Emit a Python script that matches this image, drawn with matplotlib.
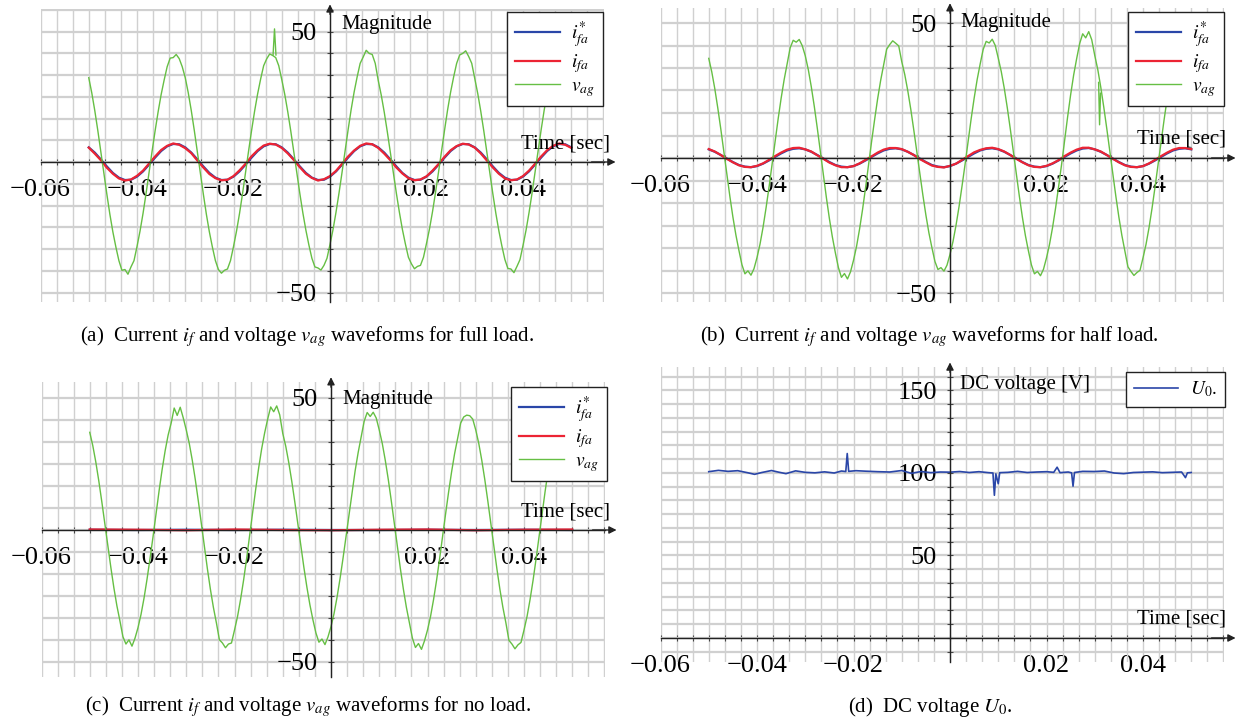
import matplotlib
matplotlib.use("Agg")
import matplotlib.pyplot as plt
import numpy as np
from matplotlib.ticker import MultipleLocator

plt.rcParams['font.family'] = ['Liberation Serif', 'DejaVu Serif']
plt.rcParams['mathtext.fontset'] = 'stix'

# ---- data ----------------------------------------------------------------
# sample times [s]
t_volt = np.linspace(-0.05, 0.05, 161)
t_cur = np.linspace(-0.05, 0.05, 81)
t_flat = np.linspace(-0.05, 0.05, 11)

# (a) full load
va_full = [32.3, 26.5, 19.7, 12.1, 3.9, -4.3, -12.3, -20.0, -26.8, -32.6, -37.8, -41.5, -41.2, -43.0, -40.2, -37.8,
           -32.4, -26.5, -19.7, -12.1, -3.9, 4.1, 11.9, 19.2, 25.8, 31.4, 36.5, 39.8, 40.0, 41.2, 39.6, 36.5,
           32.3, 26.5, 19.7, 12.1, 3.9, -4.3, -12.3, -20.0, -26.8, -32.6, -37.8, -41.2, -42.6, -41.5, -41.0, -37.8,
           -32.4, -26.5, -19.7, -12.1, -3.9, 4.2, 12.1, 19.5, 26.1, 31.8, 36.9, 39.5, 41.4, 40.8, 40.0, 36.9,
           31.6, 25.9, 19.2, 11.8, 3.9, -4.2, -12.1, -19.5, -26.1, -31.8, -36.9, -40.2, -40.6, -41.4, -39.6, -36.9,
           -31.6, -25.9, -19.2, -11.8, -3.9, 4.3, 12.3, 20.0, 26.8, 32.6, 37.8, 40.2, 42.8, 41.6, 41.2, 37.8,
           31.2, 25.6, 19.0, 11.6, 3.8, -4.1, -11.9, -19.2, -25.8, -31.4, -36.5, -39.0, -40.9, -40.0, -39.6, -36.5,
           -31.2, -25.6, -19.0, -11.6, -3.8, 4.3, 12.3, 20.0, 26.8, 32.6, 37.8, 41.0, 41.6, 42.6, 40.4, 37.8,
           32.0, 26.2, 19.4, 11.9, 3.9, -4.2, -12.2, -19.7, -26.4, -32.2, -37.4, -40.8, -41.0, -42.4, -40.0, -37.4,
           -32.0, -26.2, -19.4, -11.9, -3.9, 4.2, 12.2, 19.7, 26.4, 32.2, 37.4, 40.3, 41.5, 41.5, 40.3, 37.4,
           32.0]
va_full_spike_t = [-0.0118, -0.0115, -0.0112]
va_full_spike_v = [41.0, 51.0, 41.0]
iref_full = [5.6, 3.6, 1.0, -1.7, -4.2, -6.0, -6.9, -6.8, -5.6, -3.6, -1.0, 1.7, 4.2, 6.0, 6.9, 6.8,
             5.6, 3.6, 1.0, -1.7, -4.2, -6.0, -6.9, -6.8, -5.6, -3.6, -1.0, 1.7, 4.2, 6.0, 6.9, 6.8,
             5.6, 3.6, 1.0, -1.7, -4.2, -6.0, -6.9, -6.8, -5.6, -3.6, -1.0, 1.7, 4.2, 6.0, 6.9, 6.8,
             5.6, 3.6, 1.0, -1.7, -4.2, -6.0, -6.9, -6.8, -5.6, -3.6, -1.0, 1.7, 4.2, 6.0, 6.9, 6.8,
             5.6, 3.6, 1.0, -1.7, -4.2, -6.0, -6.9, -6.8, -5.6, -3.6, -1.0, 1.7, 4.2, 6.0, 6.9, 6.8,
             5.6]
i_full = [5.5, 3.2, 0.7, -2.2, -4.5, -6.3, -7.1, -6.7, -5.3, -3.3, -0.6, 2.1, 4.6, 6.2, 7.1, 6.6,
          5.3, 3.4, 0.6, -2.1, -4.6, -6.2, -7.0, -6.8, -5.4, -3.2, -0.7, 2.2, 4.5, 6.3, 7.0, 6.7,
          5.4, 3.3, 0.8, -2.0, -4.5, -6.1, -7.1, -6.6, -5.4, -3.4, -0.7, 2.1, 4.4, 6.2, 7.1, 6.8,
          5.4, 3.2, 0.7, -2.1, -4.4, -6.2, -7.0, -6.7, -5.5, -3.3, -0.8, 2.0, 4.5, 6.1, 7.0, 6.7,
          5.5, 3.3, 0.6, -2.1, -4.5, -6.3, -7.0, -6.7, -5.4, -3.3, -0.7, 2.1, 4.5, 6.2, 7.1, 6.6,
          5.4]

# (b) half load
va_half = [36.9, 31.9, 25.7, 18.5, 10.7, 2.4, -6.0, -14.2, -21.8, -28.5, -34.2, -39.5, -42.9, -41.8, -43.4, -41.0,
           -36.9, -31.9, -25.7, -18.5, -10.7, -2.4, 6.1, 14.4, 22.1, 29.0, 34.8, 40.8, 43.6, 42.9, 43.9, 41.6,
           37.9, 32.8, 26.4, 19.1, 11.0, 2.4, -6.2, -14.6, -22.4, -29.3, -35.2, -40.6, -44.2, -42.8, -44.8, -42.2,
           -37.9, -32.8, -26.4, -19.1, -11.0, -2.4, 6.1, 14.2, 21.9, 28.7, 34.4, 40.3, 42.0, 43.4, 42.5, 41.5,
           35.7, 30.9, 24.9, 18.0, 10.3, 2.3, -5.9, -13.7, -21.1, -27.7, -33.2, -38.3, -41.3, -40.6, -41.9, -39.7,
           -35.7, -30.9, -24.9, -18.0, -10.3, -2.3, 6.1, 14.4, 22.1, 29.0, 34.8, 40.2, 43.2, 42.6, 44.0, 41.7,
           37.0, 32.0, 25.8, 18.6, 10.7, 2.4, -6.1, -14.2, -21.9, -28.7, -34.4, -39.6, -42.9, -42.0, -43.6, -41.2,
           -37.0, -32.0, -25.8, -18.6, -10.7, -2.4, 6.5, 15.2, 23.4, 30.7, 36.8, 42.4, 46.0, 44.5, 46.8, 43.8,
           38.0, 32.8, 26.2, 18.8, 10.8, 2.4, -6.1, -14.2, -21.9, -28.7, -34.4, -40.3, -42.0, -43.5, -42.4, -41.6,
           -37.0, -32.0, -25.8, -18.6, -10.7, -2.4, 6.1, 14.2, 21.9, 28.7, 34.4, 40.0, 42.4, 43.0, 42.8, 41.5,
           37.0]
va_half_spike_t = [0.0308, 0.0310, 0.0312]
va_half_spike_v = [28.0, 12.3, 24.0]
iref_half = [3.2, 2.3, 1.1, -0.2, -1.5, -2.6, -3.2, -3.4, -3.0, -2.1, -0.9, 0.4, 1.7, 2.8, 3.4, 3.6,
             3.2, 2.3, 1.1, -0.2, -1.5, -2.6, -3.2, -3.4, -3.0, -2.1, -0.9, 0.4, 1.7, 2.8, 3.4, 3.6,
             3.2, 2.3, 1.1, -0.2, -1.5, -2.6, -3.2, -3.4, -3.0, -2.1, -0.9, 0.4, 1.7, 2.8, 3.4, 3.6,
             3.2, 2.3, 1.1, -0.2, -1.5, -2.6, -3.2, -3.4, -3.0, -2.1, -0.9, 0.4, 1.7, 2.8, 3.5, 3.7,
             3.2, 2.3, 1.1, -0.2, -1.5, -2.6, -3.2, -3.4, -3.0, -2.1, -0.9, 0.4, 1.7, 2.8, 3.4, 3.6,
             3.2]
i_half = [3.3, 2.4, 1.1, -0.3, -1.6, -2.7, -3.3, -3.4, -2.9, -2.0, -0.7, 0.7, 2.0, 3.1, 3.7, 3.8,
          3.2, 2.4, 1.0, -0.3, -1.7, -2.7, -3.4, -3.4, -3.0, -2.0, -0.7, 0.6, 2.0, 3.1, 3.7, 3.7,
          3.3, 2.3, 1.1, -0.4, -1.6, -2.8, -3.3, -3.5, -2.9, -2.1, -0.7, 0.7, 2.1, 3.0, 3.6, 3.8,
          3.3, 2.4, 1.1, -0.3, -1.6, -2.7, -3.3, -3.4, -2.9, -2.0, -0.8, 0.7, 2.0, 3.1, 3.8, 3.8,
          3.2, 2.4, 1.1, -0.3, -1.6, -2.7, -3.3, -3.4, -3.0, -2.0, -0.7, 0.7, 2.0, 3.1, 3.7, 3.7,
          3.3]

# (c) no load
va_none = [37.0, 32.0, 25.8, 18.6, 10.7, 2.4, -6.1, -14.2, -21.9, -28.7, -34.4, -40.4, -43.2, -41.6, -44.0, -41.0,
           -37.0, -32.0, -25.8, -18.6, -10.7, -2.4, 6.3, 14.9, 22.9, 30.0, 36.0, 40.5, 46.2, 43.4, 46.5, 42.5,
           37.9, 32.8, 26.4, 19.1, 11.0, 2.4, -6.2, -14.6, -22.4, -29.3, -35.2, -41.6, -42.8, -44.6, -43.2, -42.8,
           -37.9, -32.8, -26.4, -19.1, -11.0, -2.4, 6.5, 15.2, 23.4, 30.7, 36.8, 42.0, 46.6, 44.8, 47.0, 43.6,
           36.6, 31.7, 25.5, 18.4, 10.6, 2.3, -6.0, -14.1, -21.6, -28.3, -34.0, -39.0, -42.5, -41.3, -43.4, -40.5,
           -36.6, -31.7, -25.5, -18.4, -10.6, -2.3, 6.2, 14.6, 22.4, 29.3, 35.2, 41.2, 44.5, 43.0, 44.6, 42.4,
           37.9, 32.8, 26.4, 19.1, 11.0, 2.4, -6.2, -14.6, -22.4, -29.3, -35.2, -41.0, -44.5, -43.0, -45.2, -42.0,
           -37.9, -32.8, -26.4, -19.1, -11.0, -2.4, 6.1, 14.4, 22.1, 29.0, 34.8, 40.5, 42.8, 43.5, 43.3, 42.0,
           37.9, 32.8, 26.4, 19.1, 11.0, 2.4, -6.2, -14.6, -22.4, -29.3, -35.2, -41.8, -43.2, -45.0, -43.5, -42.6,
           -37.9, -32.8, -26.4, -19.1, -11.0, -2.4, 6.2, 14.6, 22.4, 29.3, 35.2, 40.9, 43.3, 44.0, 43.8, 42.5,
           37.9]
iref_none = [0.1, 0.0, 0.1, 0.0, 0.1, 0.0, 0.0, 0.1, 0.0, 0.1, 0.0]
i_none = [0.2, 0.1, -0.1, 0.2, 0.0, -0.1, 0.1, 0.2, -0.1, 0.1, 0.2]

# (d) DC voltage
t_dc = [-0.0500, -0.0480, -0.0460, -0.0440, -0.0420, -0.0405, -0.0390, -0.0370, -0.0355, -0.0340,
        -0.0320, -0.0300, -0.0280, -0.0260, -0.0240, -0.0225, -0.0216, -0.0213, -0.0210, -0.0195,
        -0.0175, -0.0150, -0.0125, -0.0100, -0.0080, -0.0060, -0.0040, -0.0020, 0.0000, 0.0020,
        0.0040, 0.0060, 0.0080, 0.0089, 0.0092, 0.0095, 0.0100, 0.0103, 0.0120, 0.0140,
        0.0160, 0.0180, 0.0200, 0.0215, 0.0222, 0.0228, 0.0245, 0.0252, 0.0255, 0.0258,
        0.0275, 0.0300, 0.0320, 0.0340, 0.0360, 0.0380, 0.0400, 0.0420, 0.0440, 0.0460,
        0.0480, 0.0488, 0.0492, 0.0500]
u_dc = [100.8, 101.6, 101.0, 101.4, 100.2, 99.2, 100.3, 101.5, 100.5, 99.6,
        101.3, 100.4, 100.1, 100.7, 100.0, 101.2, 100.9, 111.8, 101.0, 101.4,
        101.1, 100.8, 100.6, 101.5, 99.8, 100.9, 100.2, 100.6, 100.5, 100.9,
        100.3, 100.8, 100.2, 100.0, 86.5, 99.5, 93.5, 100.2, 100.4, 101.0,
        100.3, 100.6, 100.8, 100.4, 103.5, 100.2, 100.6, 100.1, 92.0, 100.3,
        101.0, 100.9, 101.2, 100.0, 99.6, 100.3, 100.5, 100.7, 100.2, 100.4,
        100.6, 97.2, 100.1, 100.3]

x_ticks = [-0.06, -0.04, -0.02, 0.02, 0.04]
x_ticklabels = ['\u22120.06', '\u22120.04', '\u22120.02', '0.02', '0.04']

BLUE = '#2a46a8'
RED = '#ec2434'
GREEN = '#66bf44'

W, H = 1246, 722
fig = plt.figure(figsize=(W / 100, H / 100), dpi=100)


def add_panel(x_zero, y_zero, px_x, px_y, xlim, ylim):
    left = x_zero + xlim[0] * px_x
    right = x_zero + xlim[1] * px_x
    top = y_zero - ylim[1] * px_y
    bottom = y_zero - ylim[0] * px_y
    ax = fig.add_axes([left / W, 1 - bottom / H, (right - left) / W, (bottom - top) / H])
    ax.set_xlim(xlim)
    ax.set_ylim(ylim)
    for s in ('top', 'right'):
        ax.spines[s].set_visible(False)
    for s in ('left', 'bottom'):
        ax.spines[s].set_position('zero')
        ax.spines[s].set_color('#222222')
        ax.spines[s].set_linewidth(1.0)
    ax.set_xticks(x_ticks)
    ax.set_xticklabels(x_ticklabels)
    ax.xaxis.set_minor_locator(MultipleLocator(0.02 / 6))
    ax.yaxis.set_minor_locator(MultipleLocator(50 / 6))
    ax.grid(which='both', axis='x', color='#d0d0d0', lw=1.0)
    ax.grid(which='both', axis='y', color='#d0d0d0', lw=1.6)
    ax.set_axisbelow(True)
    ax.tick_params(which='both', direction='inout', length=5, width=0.8, color='#444444')
    ax.tick_params(axis='x', which='major', labelsize=19, pad=10)
    ax.tick_params(axis='y', which='major', labelsize=19, pad=7)
    # arrow heads beyond the axis ends
    dx = 12 / px_x
    dy = 5 / px_y
    arrow = dict(arrowstyle='-|>', color='#222222', lw=1.0, mutation_scale=11, shrinkA=0, shrinkB=0)
    ax.annotate('', xy=(xlim[1] + dx, 0), xytext=(xlim[1] - dx, 0), arrowprops=arrow, annotation_clip=False)
    ax.annotate('', xy=(0, ylim[1] + dy), xytext=(0, ylim[1] - dy), arrowprops=arrow, annotation_clip=False)
    return ax


def fig_text(px, py, s, **kw):
    fig.text(px / W, 1 - py / H, s, **kw)


def current_legend(ax, right_px, top_px, handles, labels):
    leg = ax.legend(handles, labels, loc='upper right',
                    bbox_to_anchor=(right_px / W, 1 - top_px / H), bbox_transform=fig.transFigure,
                    fancybox=False, framealpha=1, edgecolor='#222222', fontsize=14,
                    handlelength=2.3, labelspacing=0.1, borderpad=0.4, handletextpad=0.6,
                    borderaxespad=0)
    leg.get_frame().set_linewidth(1.0)
    return leg


wave_labels = ['$i^{*}_{fa}$', '$i_{fa}$', '$v_{ag}$']
CAP = 15

# ---- (a) ---------------------------------------------------------------
ax = add_panel(330, 162, 4825, 2.61, (-0.06, 0.0567), (-53.5, 58.5))
ax.set_yticks([-50, 50])
hb, = ax.plot(t_cur, iref_full, color=BLUE, lw=1.6)
hr, = ax.plot(t_cur, i_full, color=RED, lw=1.6)
hg, = ax.plot(t_volt, va_full, color=GREEN, lw=1.0)
ax.plot(va_full_spike_t, va_full_spike_v, color=GREEN, lw=1.0)
current_legend(ax, 603, 12, [hb, hr, hg], wave_labels)
fig_text(341, 24, 'Magnitude', fontsize=15, va='center', ha='left')
fig_text(610, 144, 'Time [sec]', fontsize=15, va='center', ha='right')
fig_text(307, 337, '(a)  Current $i_f$ and voltage $v_{ag}$ waveforms for full load.',
         fontsize=CAP, ha='center', va='center')

# ---- (b) ---------------------------------------------------------------
ax = add_panel(950, 158, 4825, 2.70, (-0.06, 0.0567), (-53.3, 55.5))
ax.set_yticks([-50, 50])
hb, = ax.plot(t_cur, iref_half, color=BLUE, lw=1.6)
hr, = ax.plot(t_cur, i_half, color=RED, lw=1.6)
hg, = ax.plot(t_volt, va_half, color=GREEN, lw=1.0)
ax.plot(va_half_spike_t, va_half_spike_v, color=GREEN, lw=1.0)
current_legend(ax, 1224, 12, [hb, hr, hg], wave_labels)
fig_text(960, 23, 'Magnitude', fontsize=15, va='center', ha='left')
fig_text(1226, 139, 'Time [sec]', fontsize=15, va='center', ha='right')
fig_text(929, 337, '(b)  Current $i_f$ and voltage $v_{ag}$ waveforms for half load.',
         fontsize=CAP, ha='center', va='center')

# ---- (c) ---------------------------------------------------------------
ax = add_panel(331, 530, 4825, 2.64, (-0.06, 0.0567), (-55.5, 56.0))
ax.set_yticks([-50, 50])
hb, = ax.plot(t_flat, iref_none, color=BLUE, lw=1.6)
hr, = ax.plot(t_flat, i_none, color=RED, lw=1.6)
hg, = ax.plot(t_volt, va_none, color=GREEN, lw=1.0)
current_legend(ax, 607, 387, [hb, hr, hg], wave_labels)
fig_text(342, 399, 'Magnitude', fontsize=15, va='center', ha='left')
fig_text(610, 512, 'Time [sec]', fontsize=15, va='center', ha='right')
fig_text(308, 707, '(c)  Current $i_f$ and voltage $v_{ag}$ waveforms for no load.',
         fontsize=CAP, ha='center', va='center')

# ---- (d) ---------------------------------------------------------------
ax = add_panel(950, 638, 4825, 1.65, (-0.06, 0.0567), (-14.5, 164.0))
ax.set_yticks([50, 100, 150])
hd, = ax.plot(t_dc, u_dc, color=BLUE, lw=1.2)
current_legend(ax, 1225, 372, [hd], ['$U_0$.'])
fig_text(960, 384, 'DC voltage [V]', fontsize=15, va='center', ha='left')
fig_text(1226, 619, 'Time [sec]', fontsize=15, va='center', ha='right')
fig_text(930, 707, '(d)  DC voltage $U_0$.', fontsize=CAP, ha='center', va='center')

fig.savefig('out.png', dpi=100)
